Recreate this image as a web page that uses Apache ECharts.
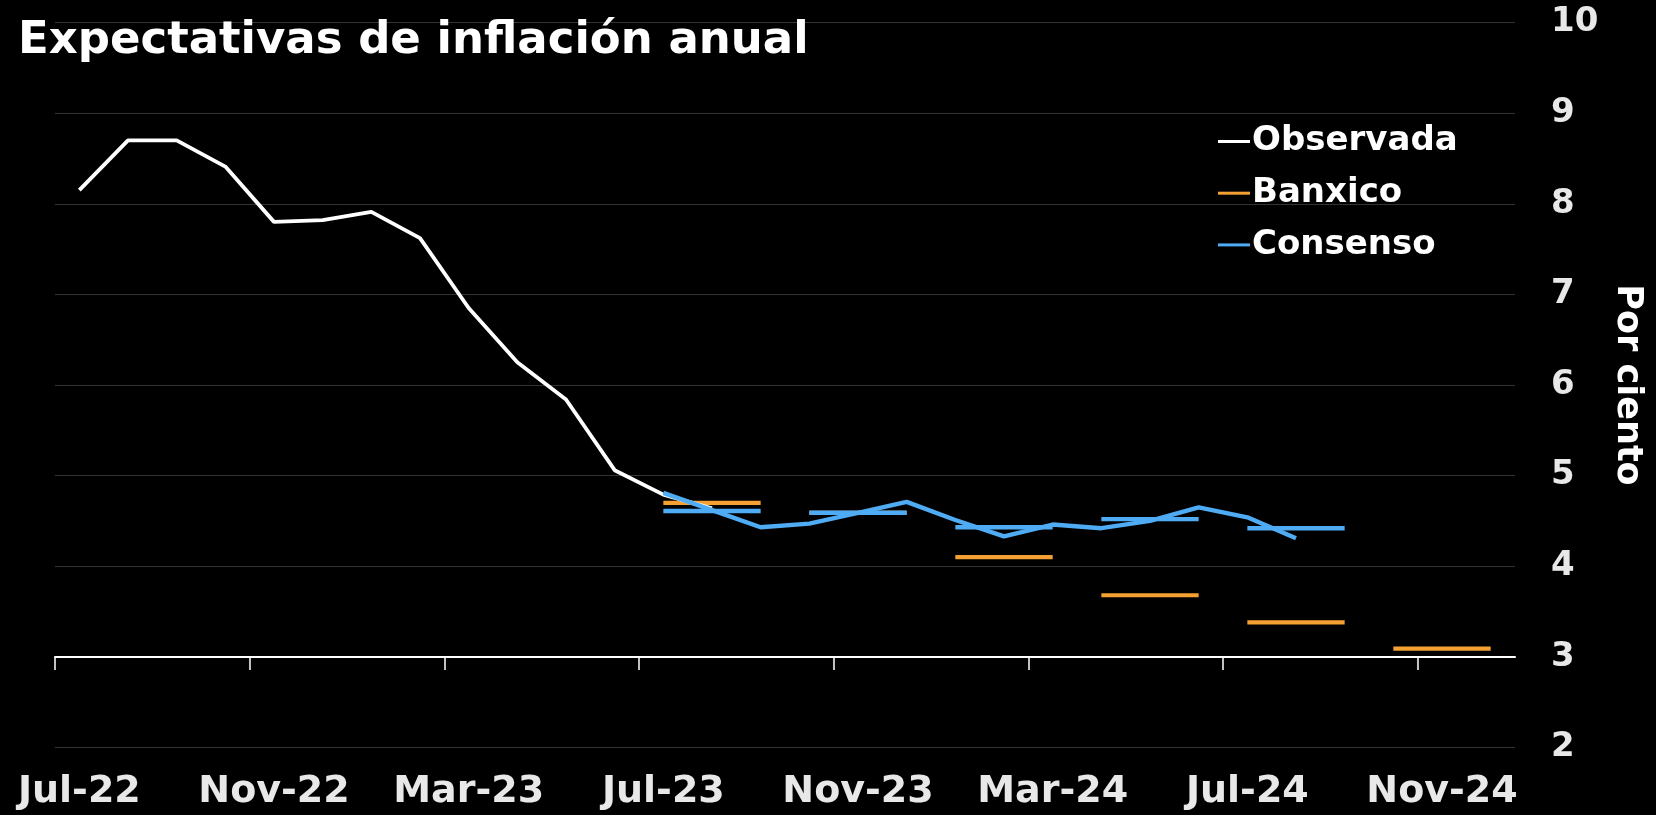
<!DOCTYPE html>
<html>
<head>
<meta charset="utf-8">
<title>Expectativas de inflación anual</title>
<script src="https://cdn.jsdelivr.net/npm/echarts@6/dist/echarts.min.js"></script>
<style>
  html, body { margin: 0; padding: 0; background: #000; }
  #chart { width: 1656px; height: 815px; }
</style>
</head>
<body>
<div id="chart"></div>
<script>
// months on the x axis (Jul-22 .. Dec-24)
const months = [
  'Jul-22', 'Aug-22', 'Sep-22', 'Oct-22', 'Nov-22', 'Dec-22',
  'Jan-23', 'Feb-23', 'Mar-23', 'Apr-23', 'May-23', 'Jun-23',
  'Jul-23', 'Aug-23', 'Sep-23', 'Oct-23', 'Nov-23', 'Dec-23',
  'Jan-24', 'Feb-24', 'Mar-24', 'Apr-24', 'May-24', 'Jun-24',
  'Jul-24', 'Aug-24', 'Sep-24', 'Oct-24', 'Nov-24', 'Dec-24'
];
// months that carry a label / tick
const tickMonths = ['Jul-22', 'Nov-22', 'Mar-23', 'Jul-23', 'Nov-23', 'Mar-24', 'Jul-24', 'Nov-24'];

// observed annual inflation, from Jul-22
const observadaStart = 'Jul-22';
const observada = [8.15, 8.70, 8.70, 8.41, 7.80, 7.82, 7.91, 7.62, 6.85, 6.25, 5.84, 5.06, 4.79, 4.64];

// monthly consensus path, from Jul-23
const consensoMensualStart = 'Jul-23';
const consensoMensual = [4.81, 4.62, 4.43, 4.47, 4.59, 4.71, 4.51, 4.33, 4.46, 4.42, 4.50, 4.65, 4.54, 4.31];

// quarterly forecasts, keyed by first month of the quarter
const quarters = ['Jul-23', 'Oct-23', 'Jan-24', 'Apr-24', 'Jul-24', 'Oct-24'];
const banxico = [4.70, 4.59, 4.10, 3.68, 3.38, 3.09];
const consensoTrim = [4.61, 4.59, 4.43, 4.52, 4.42, null];

const yMin = 2;
const yMax = 10;
const yStep = 1;
const xLineAt = 3;

const WHITE = '#ffffff';
const ORANGE = '#f5a033';
const BLUE = '#4eabf4';
const FONT = 'DejaVu Sans';

const grid = { left: 55, right: 141, top: 22.5, bottom: 67.5 };
const chartHeight = 815;

function padSeries(values, start) {
  const i0 = months.indexOf(start);
  return months.map((m, i) => (i >= i0 && i < i0 + values.length ? values[i - i0] : null));
}

function quarterSeries(name, color, values, width) {
  const out = [];
  values.forEach((v, q) => {
    if (v == null) return;
    const i0 = months.indexOf(quarters[q]);
    out.push({
      name: name,
      type: 'line',
      color: color,
      symbol: 'none',
      silent: true,
      lineStyle: { color: color, width: width },
      data: months.map((m, i) => (i >= i0 && i < i0 + 3 ? v : null))
    });
  });
  return out;
}

const plotHeight = chartHeight - grid.top - grid.bottom;
const axisOffset = -plotHeight * (xLineAt - yMin) / (yMax - yMin);

const chart = echarts.init(document.getElementById('chart'));

const series = [].concat(
  quarterSeries('Banxico', ORANGE, banxico, 4.2),
  [{
    name: 'Observada',
    type: 'line',
    color: WHITE,
    symbol: 'none',
    silent: true,
    lineStyle: { color: WHITE, width: 3.8 },
    data: padSeries(observada, observadaStart)
  }],
  quarterSeries('Consenso', BLUE, consensoTrim, 4.4),
  [{
    name: 'Consenso',
    type: 'line',
    color: BLUE,
    symbol: 'none',
    silent: true,
    lineStyle: { color: BLUE, width: 4.4 },
    data: padSeries(consensoMensual, consensoMensualStart)
  }]
);

chart.setOption({
  backgroundColor: '#000',
  animation: false,
  title: {
    text: 'Expectativas de inflación anual',
    left: 18,
    top: 19,
    padding: 0,
    textStyle: { color: WHITE, fontFamily: FONT, fontWeight: 'bold', fontSize: 45 }
  },
  legend: {
    data: ['Observada', 'Banxico', 'Consenso'],
    orient: 'vertical',
    left: 1218,
    top: 121.5,
    padding: 0,
    itemGap: 11.7,
    itemWidth: 32,
    itemHeight: 3,
    icon: 'rect',
    selectedMode: false,
    textStyle: {
      color: WHITE, fontFamily: FONT, fontWeight: 'bold', fontSize: 34, lineHeight: 40,
      padding: [0, 0, 0, -3]
    }
  },
  grid: grid,
  xAxis: [
    {
      type: 'category',
      data: months,
      boundaryGap: true,
      axisLine: { show: false },
      axisTick: { show: false },
      splitLine: { show: false },
      axisLabel: {
        interval: 3,
        margin: 26,
        color: '#e8e8e8',
        fontFamily: FONT,
        fontWeight: 'bold',
        fontSize: 38
      }
    },
    {
      // the white baseline at y = 3, ticks at month starts
      type: 'value',
      min: 0,
      max: months.length,
      position: 'bottom',
      offset: axisOffset,
      axisLine: { show: true, lineStyle: { color: WHITE, width: 2 } },
      axisTick: {
        show: true,
        length: 13,
        customValues: tickMonths.map((m) => months.indexOf(m)),
        lineStyle: { color: WHITE, width: 1.5 }
      },
      axisLabel: { show: false },
      splitLine: { show: false }
    }
  ],
  yAxis: {
    type: 'value',
    position: 'right',
    min: yMin,
    max: yMax,
    interval: yStep,
    name: 'Por ciento',
    nameLocation: 'middle',
    nameRotate: -90,
    nameGap: 92,
    nameTextStyle: { color: WHITE, fontFamily: FONT, fontWeight: 'bold', fontSize: 35 },
    axisLine: { show: false },
    axisTick: { show: false },
    splitLine: { lineStyle: { color: '#333333', width: 1.2 } },
    axisLabel: {
      margin: 36,
      color: '#e8e8e8',
      fontFamily: FONT,
      fontWeight: 'bold',
      fontSize: 34
    }
  },
  series: series
});
</script>
</body>
</html>
